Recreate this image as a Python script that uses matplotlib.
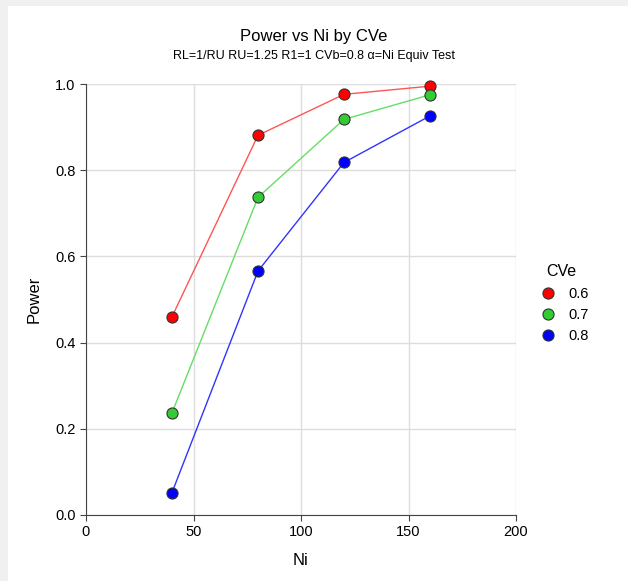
import matplotlib.pyplot as plt
from matplotlib.patches import Rectangle

plt.rcParams['font.family'] = ['Liberation Sans', 'DejaVu Sans']

# data
ni = [40, 80, 120, 160]
cve_labels = ['0.6', '0.7', '0.8']
power_06 = [0.460, 0.881, 0.976, 0.995]
power_07 = [0.237, 0.737, 0.918, 0.975]
power_08 = [0.052, 0.566, 0.818, 0.926]
series = [power_06, power_07, power_08]
colors = ['#ff0000', '#33cc33', '#0000ff']
line_colors = ['#ff5555', '#66dd66', '#3333ff']

W, H = 628, 581
fig = plt.figure(figsize=(W / 100, H / 100), dpi=100)
fig.patch.set_facecolor('#f0f0f0')
fig.patches.append(Rectangle((8 / W, 0), 1 - 8 / W, 1 - 6 / H, transform=fig.transFigure,
                             facecolor='white', edgecolor='none', zorder=-10))

ax = fig.add_axes([86 / W, 1 - 515 / H, (516 - 86) / W, (515 - 84) / H])
ax.set_facecolor('white')

for vals, c, lc, lab in zip(series, colors, line_colors, cve_labels):
    ax.plot(ni, vals, color=lc, lw=1, zorder=3, clip_on=False)
    ax.plot(ni, vals, 'o', color=c, markersize=8, markeredgecolor='#333333',
            markeredgewidth=0.8, zorder=4, label=lab, clip_on=False)

ax.set_xlim(0, 200)
ax.set_ylim(0, 1.0)
ax.set_xticks([0, 50, 100, 150, 200])
ax.set_yticks([0.0, 0.2, 0.4, 0.6, 0.8, 1.0])
ax.set_yticklabels(['0.0', '0.2', '0.4', '0.6', '0.8', '1.0'])
ax.grid(True, color='#dddddd', lw=1)
ax.set_axisbelow(True)
for s in ['top', 'right']:
    ax.spines[s].set_visible(False)
for s in ['left', 'bottom']:
    ax.spines[s].set_color('#444444')
ax.tick_params(labelsize=10.5, colors='#444444', labelcolor='black', length=4)

ax.set_xlabel('Ni', fontsize=12, labelpad=10)
ax.set_ylabel('Power', fontsize=12, labelpad=10)

fig.text(314 / W, 1 - 37 / H, 'Power vs Ni by CVe', ha='center', va='center', fontsize=12)
fig.text(314 / W, 1 - 56 / H, 'RL=1/RU RU=1.25 R1=1 CVb=0.8 α=Ni Equiv Test',
         ha='center', va='center', fontsize=9)

leg = ax.legend(title='CVe', loc='center left', bbox_to_anchor=(1.01, 0.49),
                frameon=False, fontsize=10.5, title_fontsize=11.5, handletextpad=0.4,
                labelspacing=0.5)

fig.savefig('out.png', dpi=100)
